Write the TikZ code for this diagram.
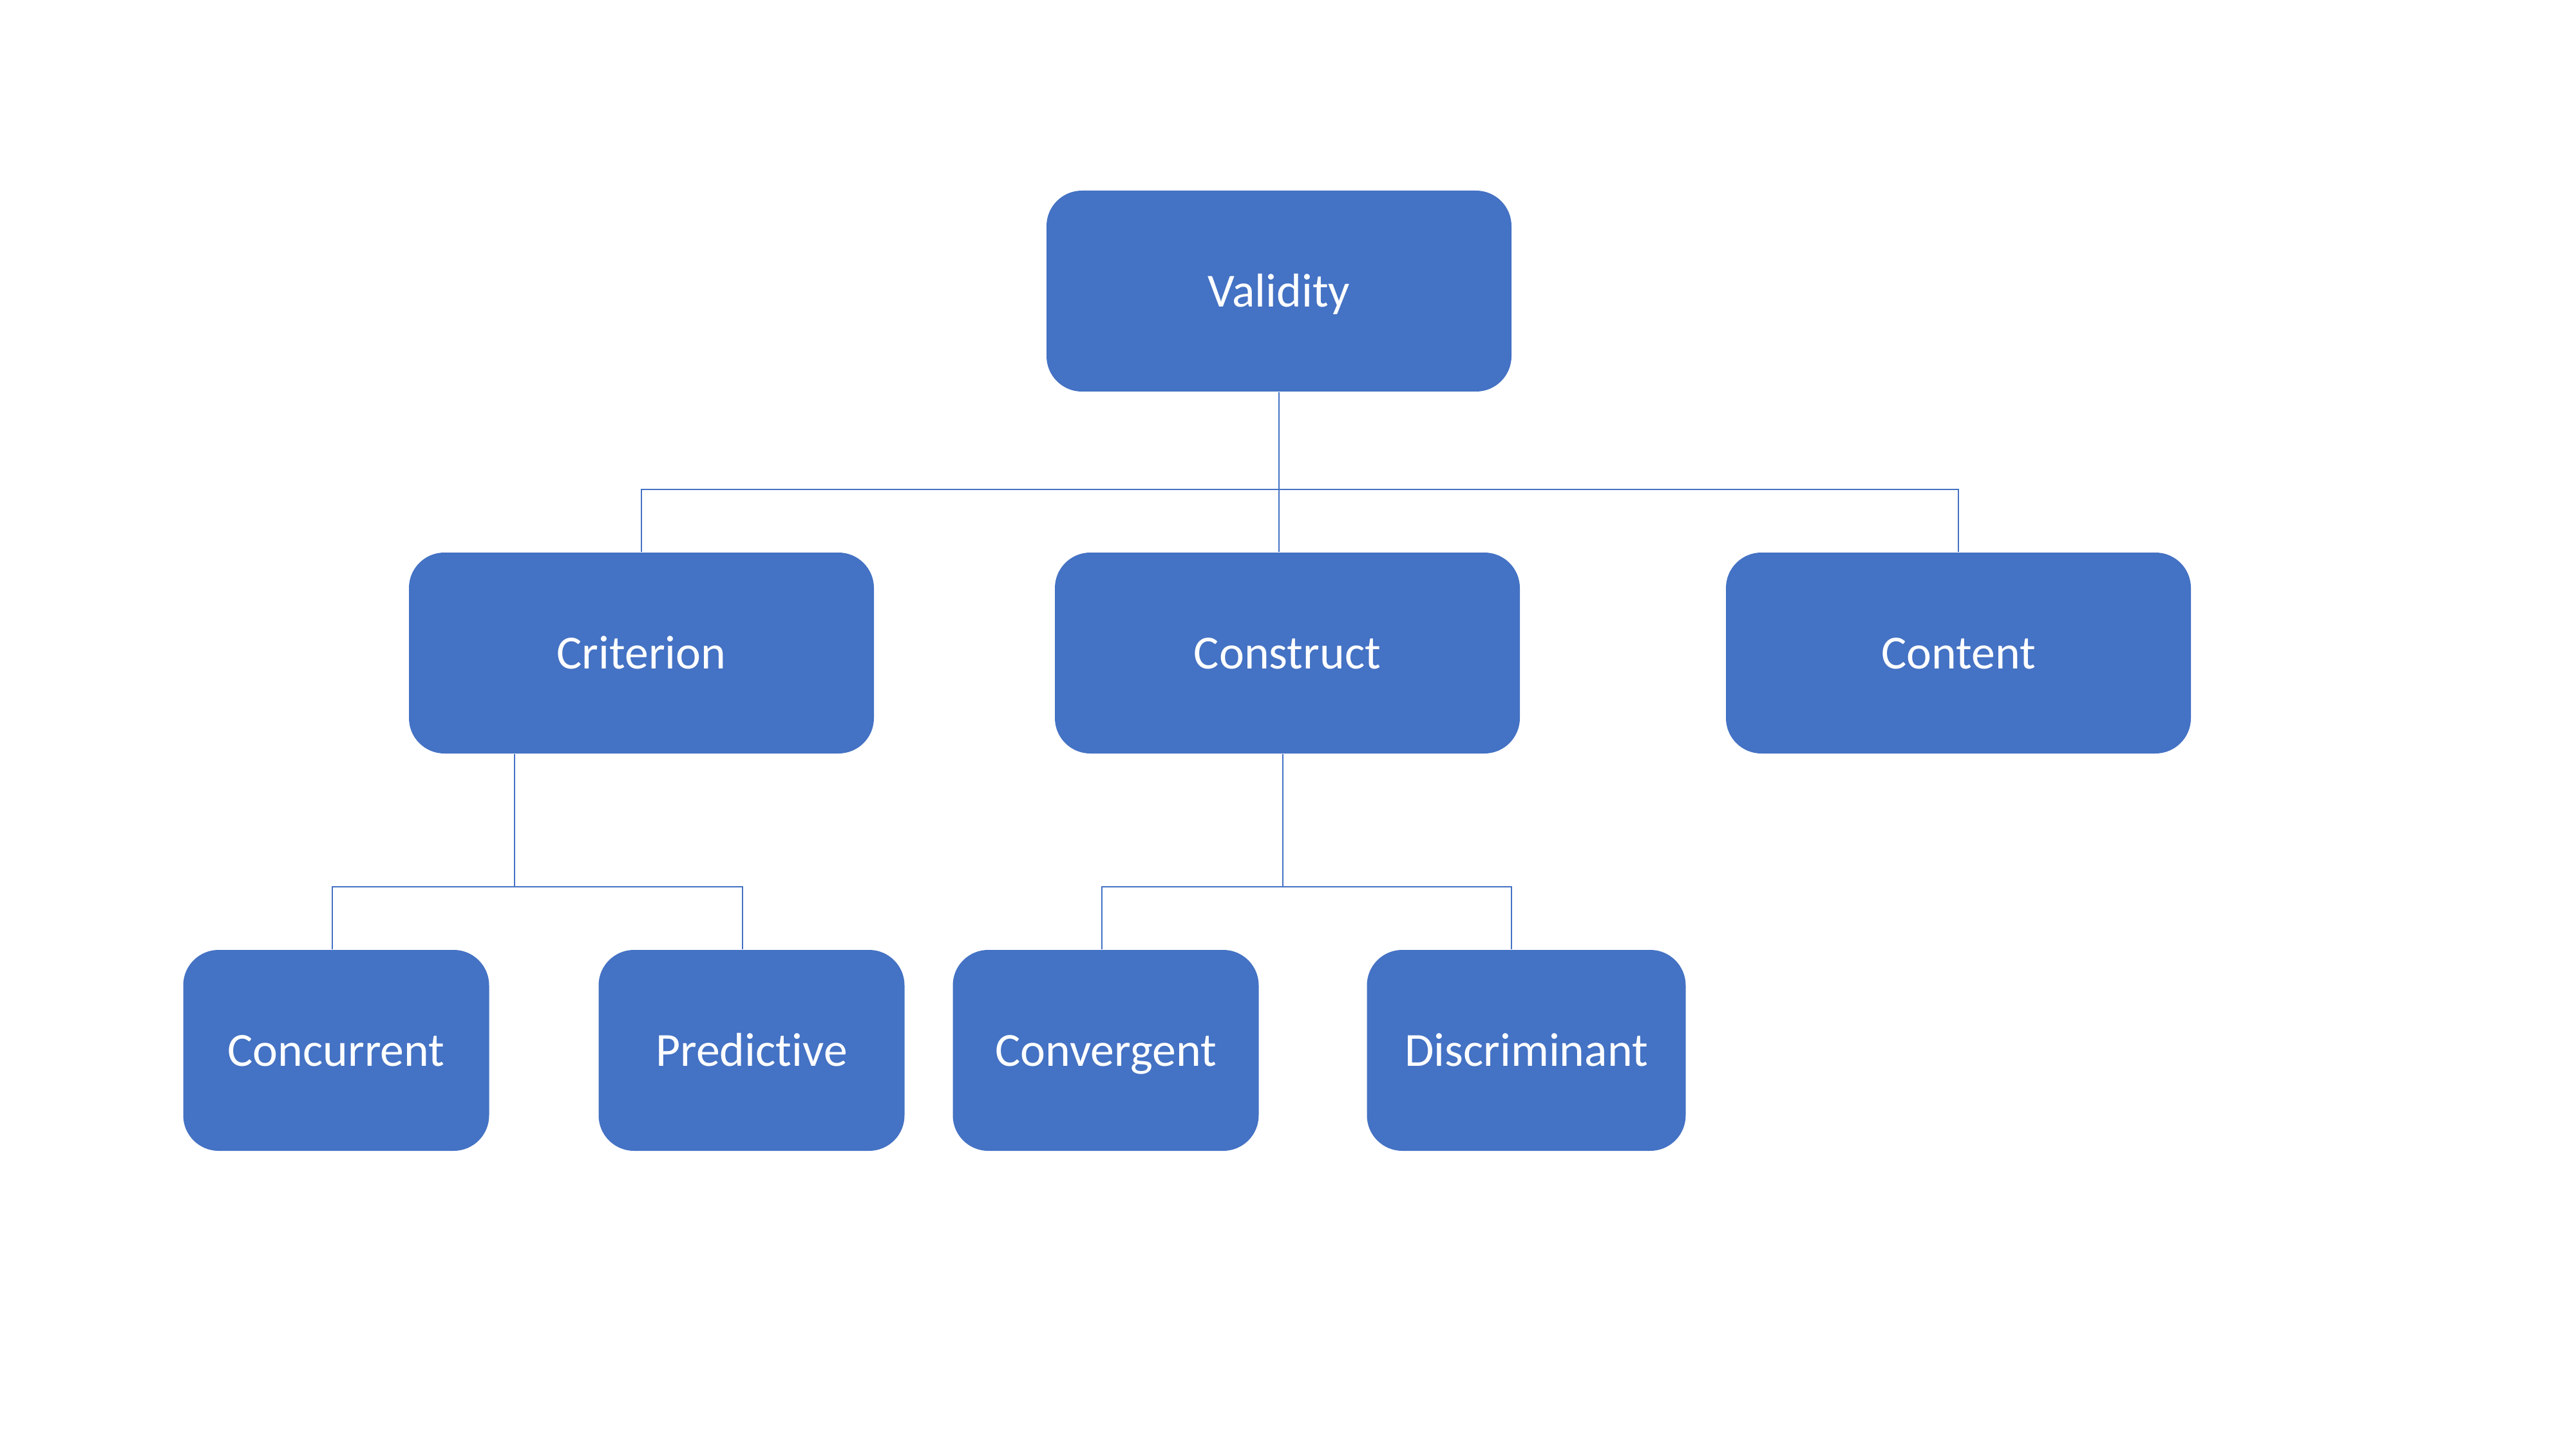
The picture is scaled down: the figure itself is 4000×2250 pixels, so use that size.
\documentclass[tikz,border=0pt]{standalone}
\usepackage{fontspec}
\setmainfont{Carlito}[Ligatures=NoCommon]
\definecolor{boxblue}{HTML}{4472C4}
\begin{document}
\begin{tikzpicture}[x=0.1mm,y=-0.1mm,
	box/.style={fill=boxblue,rounded corners=5.5mm,text=white,minimum height=31.2mm,text height=19pt,text depth=5pt,font=\fontsize{21}{25}\selectfont},
	wide/.style={box,minimum width=72.2mm},
	narrow/.style={box,minimum width=47.5mm},
	link/.style={boxblue,line width=0.7pt}]
	\useasboundingbox (0,0) rectangle (4000,2250);
	%boxes
	\node[wide] (validity) at (1986,452) {Validity};
	\node[wide] (criterion) at (996,1014) {Criterion};
	\node[wide] (construct) at (1999,1014) {Construct};
	\node[wide] (content) at (3041,1014) {Content};
	\node[narrow] (concurrent) at (522,1631) {Concurrent};
	\node[narrow] (predictive) at (1167,1631) {Predictive};
	\node[narrow] (convergent) at (1717,1631) {Convergent};
	\node[narrow,minimum width=49.5mm] (discriminant) at (2370,1631) {Discriminant};
	%first level
	\coordinate (topbus) at (1986,760);
	\draw[link] (validity.south) -- (topbus);
	\draw[link] (criterion.north) |- (topbus) -| (content.north);
	\draw[link] (topbus) -- (topbus |- construct.north);
	%criterion branch
	\coordinate (critdrop) at (799,1377);
	\coordinate (critleft) at (516,1377);
	\coordinate (critright) at (1153,1377);
	\draw[link] (critdrop |- criterion.south) -- (critdrop);
	\draw[link] (critleft |- concurrent.north) -- (critleft) -- (critright) -- (critright |- predictive.north);
	%construct branch
	\coordinate (consdrop) at (1992,1377);
	\coordinate (consleft) at (1711,1377);
	\coordinate (consright) at (2347,1377);
	\draw[link] (consdrop |- construct.south) -- (consdrop);
	\draw[link] (consleft |- convergent.north) -- (consleft) -- (consright) -- (consright |- discriminant.north);
\end{tikzpicture}
\end{document}
